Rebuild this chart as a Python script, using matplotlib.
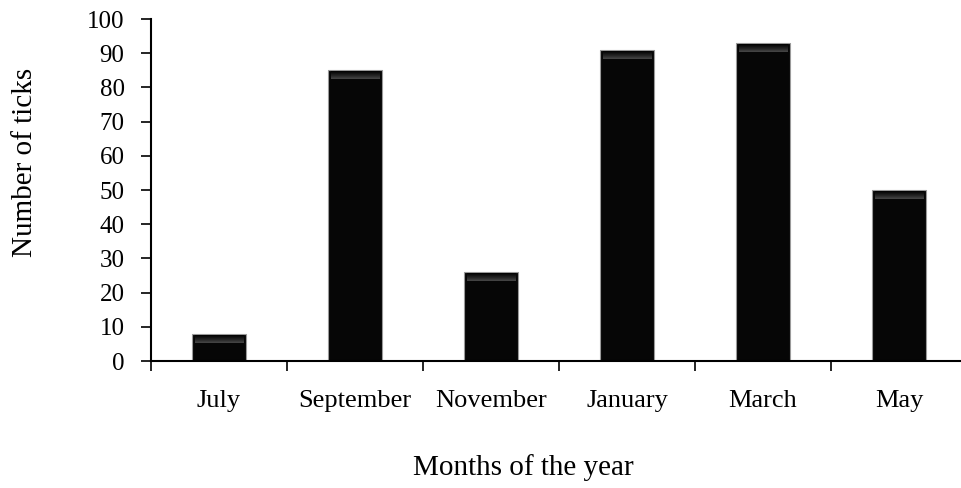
import numpy as np
import matplotlib.pyplot as plt

months = ['July', 'September', 'November', 'January', 'March', 'May']
tick_counts = [8, 85, 26, 91, 93, 50]
y_ticks = list(range(0, 101, 10))

plt.rcParams['font.family'] = ['Liberation Serif', 'DejaVu Serif']

fig = plt.figure(figsize=(9.61, 4.88), dpi=100)
ax = fig.add_axes([151 / 961, 1 - 361 / 488, 816 / 961, 342 / 488])

x = np.arange(len(months))
width = 0.4
ax.bar(x, tick_counts, width=width, color='#060606', edgecolor='#9a9a9a',
       linewidth=0.8, zorder=2)

# soft bevel highlight at the top of each bar
grad = np.linspace(0, 1, 50).reshape(-1, 1)
for xi, v in zip(x, tick_counts):
    ax.imshow(grad, cmap='Greys_r', vmin=0, vmax=4.5, aspect='auto',
              extent=(xi - width / 2 + 0.02, xi + width / 2 - 0.02, v - 2.6, v - 0.3),
              origin='upper', zorder=3)

ax.set_xlim(-0.5, len(months) - 0.5)
ax.set_ylim(0, 100)
ax.set_yticks(y_ticks)
ax.tick_params(axis='y', labelsize=18, length=7, width=1.2, direction='out', pad=12)

ax.set_xticks(x)
ax.set_xticklabels(months)
ax.set_xticks(np.arange(len(months) + 1) - 0.5, minor=True)
ax.tick_params(axis='x', which='major', length=0, labelsize=19, pad=21)
ax.tick_params(axis='x', which='minor', length=7, width=1.2, direction='out')

for s in ['top', 'right']:
    ax.spines[s].set_visible(False)
ax.spines['left'].set_linewidth(1.5)
ax.spines['bottom'].set_linewidth(1.5)

fig.text(25 / 961, 1 - 162 / 488, 'Number of ticks', rotation=90,
         ha='center', va='center', fontsize=21)
fig.text(523 / 961, 1 - 468 / 488, 'Months of the year',
         ha='center', va='center', fontsize=21)

fig.savefig('out.png', dpi=100)
